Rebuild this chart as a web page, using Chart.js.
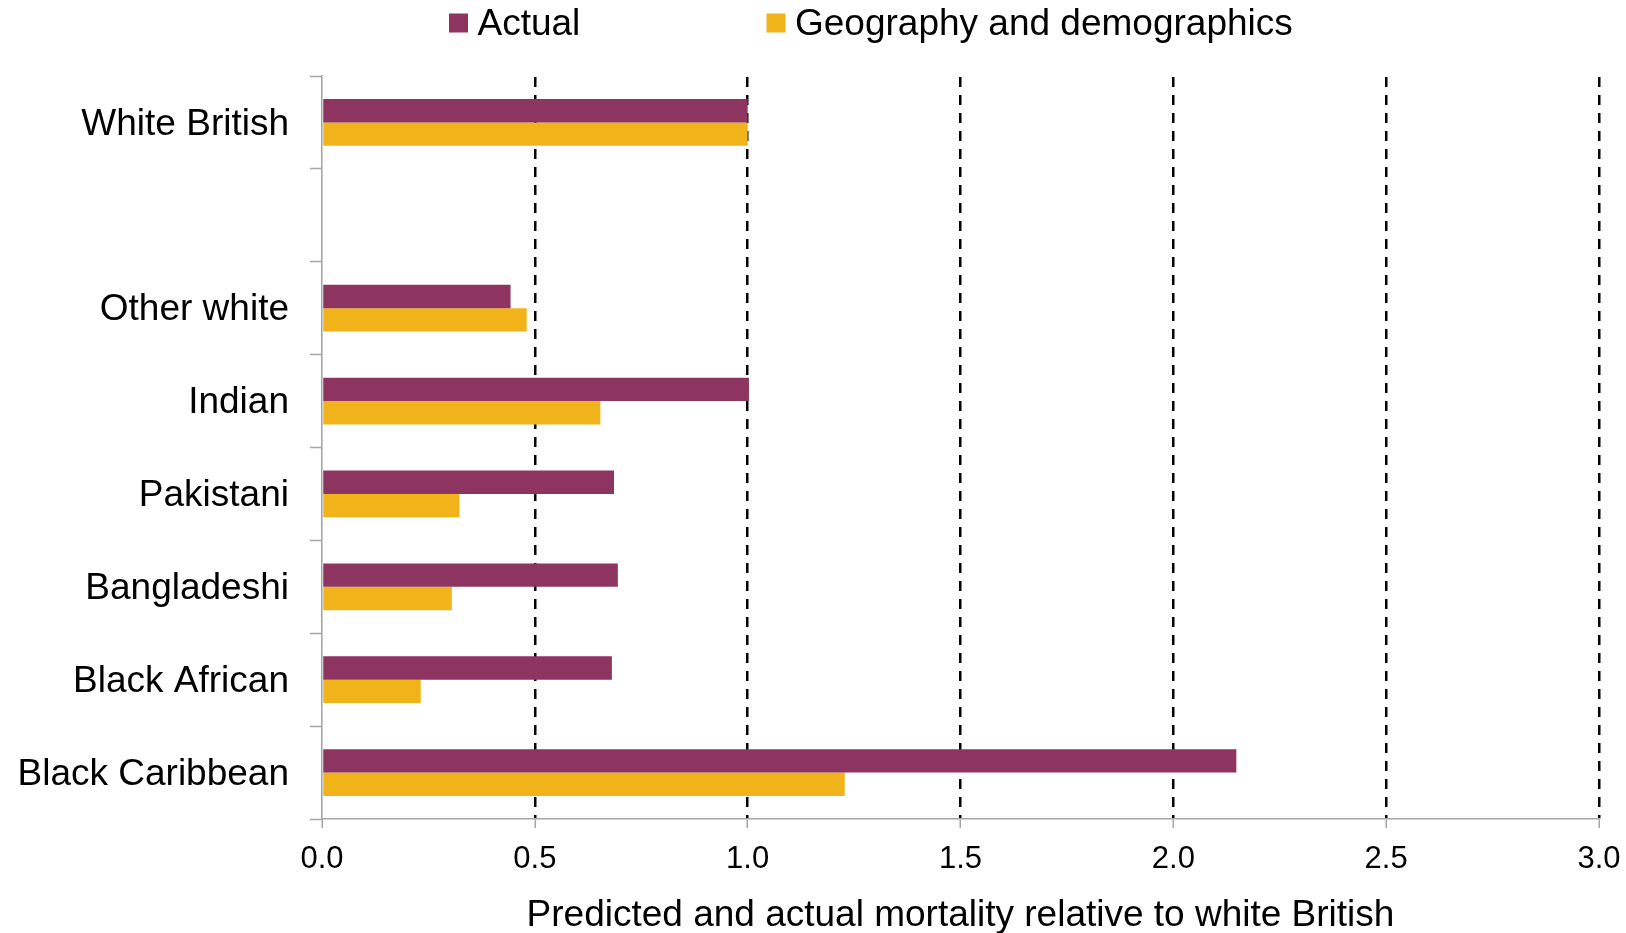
<!DOCTYPE html>
<html>
<head>
<meta charset="utf-8">
<title>Predicted and actual mortality relative to white British</title>
<script src="https://cdn.jsdelivr.net/npm/chart.js@4/dist/chart.umd.min.js"></script>
<style>
  html, body { margin: 0; padding: 0; background: #ffffff; }
  #wrap { width: 1626px; height: 933px; position: relative; }
</style>
</head>
<body>
<div id="wrap"><canvas id="chart" width="1626" height="933"></canvas></div>
<script>
// Ethnic groups (the empty entry leaves a gap below White British)
const categories = ['White British', '', 'Other white', 'Indian', 'Pakistani', 'Bangladeshi', 'Black African', 'Black Caribbean'];

// Mortality relative to white British
const actual = [1.0, null, 0.443, 1.003, 0.686, 0.695, 0.681, 2.148];
const geographyDemographics = [1.0, null, 0.481, 0.654, 0.323, 0.305, 0.232, 1.228];

// Value axis ticks
const xTickValues = [0.0, 0.5, 1.0, 1.5, 2.0, 2.5, 3.0];
const xTickLabels = ['0.0', '0.5', '1.0', '1.5', '2.0', '2.5', '3.0'];

const seriesNames = ['Actual', 'Geography and demographics'];
const seriesColors = ['#8e3461', '#f0b41a'];

const FONT = "'Liberation Sans', Arial, Helvetica, sans-serif";
const AXIS_GREY = '#a6a6a6';

// Legend drawn along the top edge, using the dataset labels and colours
const topLegend = {
  id: 'topLegend',
  afterDraw(chart) {
    const ctx = chart.ctx;
    const starts = [449, 766.5];
    ctx.save();
    ctx.font = '37px ' + FONT;
    ctx.textBaseline = 'middle';
    ctx.textAlign = 'left';
    chart.data.datasets.forEach((ds, i) => {
      const x = starts[i];
      ctx.fillStyle = ds.backgroundColor;
      ctx.fillRect(x, 13.5, 19, 19);
      ctx.fillStyle = '#000000';
      ctx.fillText(ds.label, x + 28.5, 25);
    });
    ctx.restore();
  }
};

new Chart(document.getElementById('chart'), {
  type: 'bar',
  data: {
    labels: categories,
    datasets: [
      {
        label: seriesNames[0],
        data: actual,
        backgroundColor: seriesColors[0],
        barPercentage: 1,
        categoryPercentage: 0.504
      },
      {
        label: seriesNames[1],
        data: geographyDemographics,
        backgroundColor: seriesColors[1],
        barPercentage: 1,
        categoryPercentage: 0.504
      }
    ]
  },
  options: {
    indexAxis: 'y',
    responsive: false,
    animation: false,
    layout: { padding: { top: 76, right: 27, left: 0, bottom: 0 } },
    plugins: {
      legend: { display: false },
      tooltip: { enabled: false }
    },
    scales: {
      x: {
        type: 'linear',
        position: 'bottom',
        min: 0,
        max: 3,
        afterBuildTicks(scale) {
          scale.ticks = xTickValues.map(v => ({ value: v }));
        },
        afterFit(scale) {
          scale.height = 114;
          // the outer right margin already leaves room for the last label
          scale.paddingRight = 0;
        },
        ticks: {
          color: '#000000',
          font: { family: FONT, size: 31 },
          padding: 13,
          maxRotation: 0,
          callback: (value) => xTickLabels[xTickValues.indexOf(value)] ?? value.toFixed(1)
        },
        grid: {
          color: (c) => (c.tick && c.tick.value === 0 ? 'rgba(0,0,0,0)' : '#000000'),
          lineWidth: 2.5,
          drawTicks: true,
          tickLength: 9,
          tickColor: AXIS_GREY,
          tickWidth: 1.5,
          tickBorderDash: []
        },
        border: {
          display: true,
          color: AXIS_GREY,
          width: 1.6,
          dash: [10, 8],
          dashOffset: -1
        },
        title: {
          display: true,
          text: 'Predicted and actual mortality relative to white British',
          color: '#000000',
          font: { family: FONT, size: 37, lineHeight: 0.9 },
          padding: { top: 0, bottom: 1 }
        }
      },
      y: {
        type: 'category',
        afterFit(scale) { scale.width = 322; },
        ticks: {
          color: '#000000',
          font: { family: FONT, size: 37 },
          padding: 21,
          labelOffset: 2,
          autoSkip: false
        },
        grid: {
          offset: true,
          drawOnChartArea: false,
          drawTicks: true,
          tickLength: 12,
          tickColor: AXIS_GREY,
          tickWidth: 1.5,
          color: AXIS_GREY
        },
        border: {
          display: true,
          color: AXIS_GREY,
          width: 1.6
        }
      }
    }
  },
  plugins: [topLegend]
});
</script>
</body>
</html>
